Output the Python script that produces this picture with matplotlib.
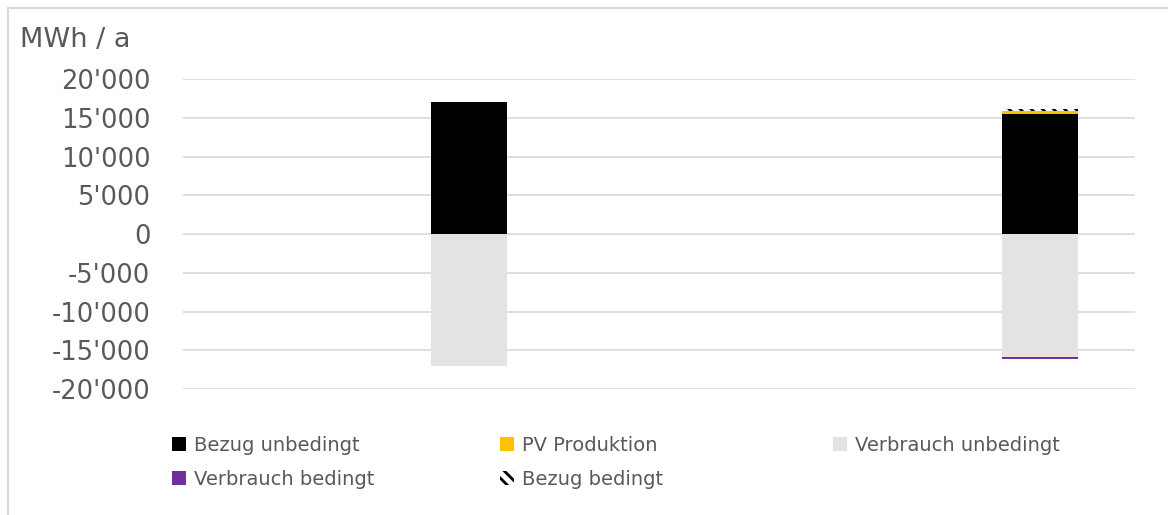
import matplotlib
matplotlib.use("Agg")
import matplotlib.pyplot as plt
from matplotlib.lines import Line2D
from matplotlib.patches import Patch
import numpy as np

categories = ["", "A", "", "", "B"]
bezug_unbedingt = [0, 17000, 0, 0, 15500]
pv_produktion = [0, 0, 0, 0, 400]
bezug_bedingt = [0, 0, 0, 0, 200]
verbrauch_unbedingt = [0, -17000, 0, 0, -15850]
verbrauch_bedingt = [0, 0, 0, 0, -300]
yticks = [-20000, -15000, -10000, -5000, 0, 5000, 10000, 15000, 20000]

plt.rcParams['font.family'] = ['DejaVu Sans']
plt.rcParams['hatch.linewidth'] = 2.0

W, H = 1168, 515
fig = plt.figure(figsize=(W/100, H/100), dpi=100)
ax = fig.add_axes([183/W, 1-389/H, (1135-183)/W, (389-79)/H])

x = np.arange(len(categories))
w = 0.4
bu = np.array(bezug_unbedingt, float)
pv = np.array(pv_produktion, float)
bb = np.array(bezug_bedingt, float)
vu = np.array(verbrauch_unbedingt, float)
vb = np.array(verbrauch_bedingt, float)

ax.bar(x, bu, w, color='#000000', zorder=3)
ax.bar(x, pv, w, bottom=bu, color='#FFC000', zorder=3)
ax.bar(x, bb, w, bottom=bu+pv, color='white', edgecolor='#000000', hatch='\\\\\\', linewidth=0, zorder=3)
ax.bar(x, vu, w, color='#E3E3E3', zorder=3)
ax.bar(x, vb, w, bottom=vu, color='#7030A0', zorder=3)

ax.set_xlim(-0.5, len(categories)-0.5)
ax.set_ylim(-20000, 20000)
ax.set_yticks(yticks)
ax.set_yticklabels([f"{v:,}".replace(",", "'") for v in yticks], fontsize=18.5, color='#595959')
ax.set_xticks([])
ax.tick_params(axis='y', length=0, pad=23.5)
ax.grid(axis='y', color='#D9D9D9', linewidth=1.2, zorder=0)
for s in ax.spines.values():
    s.set_visible(False)

fig.text(20/W, 1-40/H, "MWh / a", fontsize=19.5, color='#595959', va='center', ha='left')

columns = [
    ([Patch(facecolor='#000000'), Patch(facecolor='#7030A0')], ["Bezug unbedingt", "Verbrauch bedingt"], 156),
    ([Patch(facecolor='#FFC000'), Patch(facecolor='white', edgecolor='#000000', hatch='\\\\\\', linewidth=0)],
     ["PV Produktion", "Bezug bedingt"], 484),
    ([Patch(facecolor='#E3E3E3')], ["Verbrauch unbedingt"], 817),
]
for hs, ls, xpos in columns:
    fig.legend(hs, ls, loc='upper left', bbox_to_anchor=(xpos/W, 1-420/H), ncol=1,
               frameon=False, fontsize=14, labelcolor='#595959', handlelength=0.75, handleheight=0.75,
               handletextpad=0.4, labelspacing=0.78, borderpad=0.3)

fig.add_artist(Line2D([8/W, 1], [1-8/H, 1-8/H], color='#D9D9D9', linewidth=1.5))
fig.add_artist(Line2D([8/W, 8/W], [0, 1-8/H], color='#D9D9D9', linewidth=1.5))

fig.savefig("out.png", dpi=100)
